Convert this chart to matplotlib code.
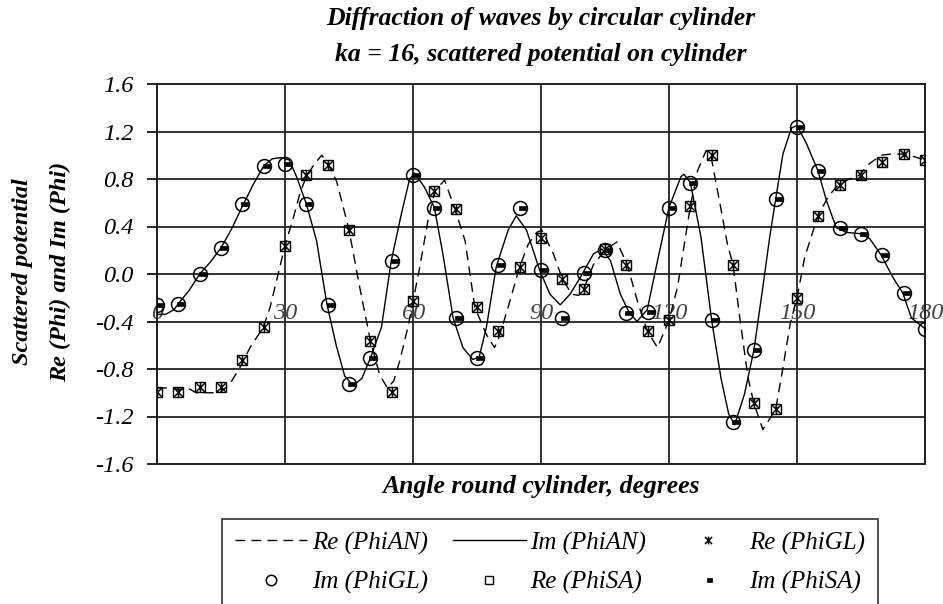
import matplotlib
matplotlib.use('Agg')
import matplotlib.pyplot as plt
from matplotlib.path import Path

plt.rcParams['font.family'] = ['Liberation Serif', 'DejaVu Serif']

# angles (degrees) of the GL / SA points
angle = list(range(0, 181, 5))

re_gl = [-0.99, -0.99, -0.95, -0.95, -0.72, -0.45, 0.24, 0.83, 0.92, 0.37,
         -0.56, -0.99, -0.23, 0.70, 0.55, -0.28, -0.48, 0.06, 0.30, -0.04,
         -0.13, 0.21, 0.08, -0.48, -0.39, 0.57, 1.00, 0.08, -1.09, -1.14,
         -0.20, 0.49, 0.75, 0.83, 0.94, 1.01, 0.96]
im_gl = [-0.26, -0.25, 0.00, 0.22, 0.59, 0.91, 0.93, 0.59, -0.26, -0.93,
         -0.71, 0.11, 0.83, 0.56, -0.37, -0.71, 0.08, 0.56, 0.03, -0.37,
         0.01, 0.20, -0.33, -0.32, 0.56, 0.77, -0.39, -1.25, -0.64, 0.63,
         1.24, 0.87, 0.39, 0.34, 0.16, -0.16, -0.46]
re_sa = [-0.99, -0.99, -0.95, -0.95, -0.72, -0.45, 0.24, 0.83, 0.92, 0.37,
         -0.56, -0.99, -0.23, 0.70, 0.55, -0.28, -0.48, 0.06, 0.30, -0.04,
         -0.13, 0.21, 0.08, -0.48, -0.39, 0.57, 1.00, 0.08, -1.09, -1.14,
         -0.20, 0.49, 0.75, 0.83, 0.94, 1.01, 0.96]
im_sa = [-0.26, -0.25, 0.00, 0.22, 0.59, 0.91, 0.93, 0.59, -0.26, -0.93,
         -0.71, 0.11, 0.83, 0.56, -0.37, -0.71, 0.08, 0.56, 0.03, -0.37,
         0.01, 0.20, -0.33, -0.32, 0.56, 0.77, -0.39, -1.25, -0.64, 0.63,
         1.24, 0.87, 0.39, 0.34, 0.16, -0.16, -0.46]

# analytic solution
an_re_angle = [0, 3, 5, 7.7, 9.2, 14.7, 17, 19.4, 21.8, 24.9, 26.5, 28.4, 30,
               32, 33.5, 35.1, 37, 38.6, 40.2, 42.1, 44.1, 45, 47.5, 50, 52.2,
               54, 55.5, 56.9, 58.8, 60, 61.6, 63.5, 65.1, 67.4, 69.8, 72.2,
               74.5, 77.2, 79.1, 80, 82.3, 85, 87, 89, 90.2, 92.9, 95, 97.2,
               98.8, 100, 102.3, 105.3, 107.8, 110.2, 112.6, 114.9, 117.3,
               120, 122, 123.5, 125, 126.7, 128.7, 129.8, 131.8, 133.7, 135,
               136.6, 138.5, 139.9, 142, 145, 146.7, 148.4, 150, 151.8, 154.9,
               157.3, 159.6, 162.3, 164.5, 167, 169.7, 172, 175, 177.2, 180]
an_re = [-0.96, -0.96, -0.97, -0.97, -1.00, -1.00, -0.93, -0.79, -0.62, -0.45,
         -0.28, 0.00, 0.24, 0.48, 0.68, 0.83, 0.93, 1.00, 0.92, 0.78, 0.50,
         0.37, -0.11, -0.56, -0.85, -0.96, -0.90, -0.73, -0.45, -0.23, 0.06,
         0.45, 0.70, 0.79, 0.55, 0.28, -0.28, -0.51, -0.62, -0.55, -0.28,
         0.06, 0.25, 0.35, 0.37, 0.17, -0.04, -0.17, -0.18, -0.13, 0.08, 0.21,
         0.27, 0.08, -0.23, -0.48, -0.62, -0.39, -0.11, 0.23, 0.57, 0.87,
         1.04, 1.00, 0.62, 0.25, 0.08, -0.37, -0.87, -1.09, -1.31, -1.14,
         -0.79, -0.42, -0.20, 0.14, 0.49, 0.65, 0.75, 0.80, 0.83, 0.93, 1.00,
         1.01, 1.01, 0.99, 0.96]
an_im_angle = [0, 2, 4, 5, 7.5, 10, 12.5, 15, 17.5, 20, 22.5, 25, 27, 29, 31,
               32.7, 35, 37.4, 39.8, 42, 44, 46, 48, 50, 52.6, 54.9, 57.3,
               59.2, 60.4, 62.7, 65, 67, 69.4, 71.7, 74, 75.5, 77.2, 79.5, 82.3,
               84.2, 86.6, 89.7, 92.1, 94.5, 96.8, 99.2, 102.3, 104.3, 106.3,
               108.6, 110.6, 112.5, 114.9, 117.3, 120, 122.8, 123.5, 125,
               127.5, 130, 132.2, 134, 135.4, 137.7, 139.9, 142, 143.6, 145,
               146.7, 148.7, 150, 152.2, 154.9, 156.9, 159.2, 161.6, 164.7,
               167, 169.7, 172.5, 174.8, 176.8, 180]
an_im = [-0.34, -0.34, -0.30, -0.25, -0.14, 0.00, 0.10, 0.22, 0.38, 0.57,
         0.75, 0.91, 0.97, 0.98, 0.96, 0.82, 0.59, 0.28, -0.25, -0.60, -0.86,
         -0.94, -0.88, -0.71, -0.45, 0.11, 0.51, 0.80, 0.85, 0.73, 0.56, 0.17,
         -0.37, -0.62, -0.72, -0.70, -0.45, 0.06, 0.37, 0.49, 0.37, 0.03,
         -0.17, -0.26, -0.17, -0.03, 0.17, 0.21, 0.11, -0.17, -0.32, -0.40,
         -0.30, 0.11, 0.56, 0.82, 0.84, 0.77, 0.31, -0.39, -0.88, -1.18,
         -1.27, -1.01, -0.64, -0.11, 0.31, 0.63, 1.01, 1.23, 1.25, 1.10, 0.87,
         0.62, 0.39, 0.35, 0.34, 0.30, 0.16, -0.03, -0.16, -0.37, -0.46]

xticks = [0, 30, 60, 90, 120, 150, 180]
yticks = [1.6, 1.2, 0.8, 0.4, 0.0, -0.4, -0.8, -1.2, -1.6]

# excel-like markers
star = Path([(-1, -1), (1, 1), (-1, 1), (1, -1), (0, -1.1), (0, 1.1)],
            [Path.MOVETO, Path.LINETO, Path.MOVETO, Path.LINETO,
             Path.MOVETO, Path.LINETO])
dash = Path([(-0.2, -0.4), (1.0, -0.4), (1.0, 0.4), (-0.2, 0.4), (-0.2, -0.4)],
            [Path.MOVETO, Path.LINETO, Path.LINETO, Path.LINETO,
             Path.CLOSEPOLY])

fig = plt.figure(figsize=(9.43, 6.04), dpi=100)
ax = fig.add_axes([157 / 943, 1 - 464 / 604, 768 / 943, 380 / 604])

h_re_an, = ax.plot(an_re_angle, an_re, color='black', lw=1.0,
                   dashes=(7, 4.5), label='Re (PhiAN)', zorder=3)
h_im_an, = ax.plot(an_im_angle, an_im, color='black', lw=1.0,
                   label='Im (PhiAN)', zorder=3)
h_re_gl, = ax.plot(angle, re_gl, ls='none', marker=star, ms=7.5,
                   mec='black', mew=1.1, label='Re (PhiGL)', zorder=4)
h_im_gl, = ax.plot(angle, im_gl, ls='none', marker='o', ms=10, mfc='none',
                   mec='black', mew=1.1, label='Im (PhiGL)', zorder=4)
h_re_sa, = ax.plot(angle, re_sa, ls='none', marker='s', ms=7.5, mfc='none',
                   mec='black', mew=1.0, label='Re (PhiSA)', zorder=4)
h_im_sa, = ax.plot(angle, im_sa, ls='none', marker=dash, ms=8.5, mfc='black',
                   mec='black', mew=0.5, label='Im (PhiSA)', zorder=5)

ax.set_xlim(0, 180)
ax.set_ylim(-1.6, 1.6)
ax.set_xticks(xticks)
ax.set_xticklabels([])
ax.set_yticks(yticks)
ax.set_yticklabels(['%.1f' % v for v in yticks], fontsize=17.5, style='italic')
ax.tick_params(axis='x', length=0)
ax.tick_params(axis='y', length=7, width=1.2, pad=10, direction='out')
ax.grid(True, color='#222222', lw=1.3)
ax.set_axisbelow(True)
for s in ax.spines.values():
    s.set_linewidth(1.4)
    s.set_color('#222222')

# category labels sit inside the plot, just under the zero line
for t in xticks:
    ax.text(t, -0.33, str(t), ha='center', va='center', fontsize=17.5,
            style='italic', color='#444444', zorder=2)

fig.text(541 / 943, 1 - 19 / 604, 'Diffraction of waves by circular cylinder',
         ha='center', va='center', fontsize=18.5, weight='bold', style='italic')
fig.text(541 / 943, 1 - 55 / 604, 'ka = 16, scattered potential on cylinder',
         ha='center', va='center', fontsize=18.5, weight='bold', style='italic')
fig.text(541 / 943, 1 - 486 / 604, 'Angle round cylinder, degrees',
         ha='center', va='center', fontsize=18.5, weight='bold', style='italic')
fig.text(23 / 943, 1 - 272 / 604, 'Scattered potential', rotation=90,
         ha='center', va='center', fontsize=17.5, weight='bold', style='italic')
fig.text(60 / 943, 1 - 272 / 604, 'Re (Phi) and Im (Phi)', rotation=90,
         ha='center', va='center', fontsize=17.5, weight='bold', style='italic')

handles = [h_re_an, h_im_gl, h_im_an, h_re_sa, h_re_gl, h_im_sa]
leg = fig.legend(handles=handles, labels=[h.get_label() for h in handles],
                 ncol=3, loc='upper left',
                 bbox_to_anchor=(222 / 943, 1 - 519 / 604),
                 prop={'size': 18, 'style': 'italic'}, frameon=True,
                 fancybox=False, edgecolor='black', borderpad=0.5,
                 labelspacing=0.65, handlelength=2.9, handletextpad=0.2,
                 columnspacing=1.0, markerscale=0.75, borderaxespad=0)
leg.get_frame().set_linewidth(1.2)

fig.savefig('out.png', dpi=100)
